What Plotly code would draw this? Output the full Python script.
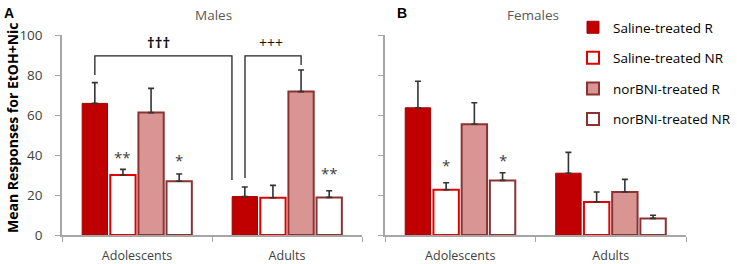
import plotly.graph_objects as go

categories = ["Adolescents", "Adults"]
series_names = ["Saline-treated R", "Saline-treated NR", "norBNI-treated R", "norBNI-treated NR"]

# Males (panel A): means and upper error (SEM)
males_means = {
    "Saline-treated R": [65.8, 19.2],
    "Saline-treated NR": [30.0, 18.6],
    "norBNI-treated R": [61.2, 71.7],
    "norBNI-treated NR": [26.9, 18.8],
}
males_sem = {
    "Saline-treated R": [10.4, 4.8],
    "Saline-treated NR": [2.8, 6.2],
    "norBNI-treated R": [12.1, 10.8],
    "norBNI-treated NR": [3.6, 3.3],
}
# Females (panel B)
females_means = {
    "Saline-treated R": [63.6, 30.9],
    "Saline-treated NR": [22.6, 16.5],
    "norBNI-treated R": [55.4, 21.5],
    "norBNI-treated NR": [27.3, 8.3],
}
females_sem = {
    "Saline-treated R": [13.3, 10.4],
    "Saline-treated NR": [3.5, 5.0],
    "norBNI-treated R": [10.7, 6.3],
    "norBNI-treated NR": [3.8, 1.6],
}
y_ticks = [0, 20, 40, 60, 80, 100]

styles = {
    "Saline-treated R": dict(fill="#C00000", line="#A00000", lw=1),
    "Saline-treated NR": dict(fill="#FFFFFF", line="#E00000", lw=2),
    "norBNI-treated R": dict(fill="#D99594", line="#8C3232", lw=2),
    "norBNI-treated NR": dict(fill="#FFFFFF", line="#8C3232", lw=2),
}

FONT = "Open Sans"
W, H = 737, 264
fig = go.Figure()

for panel, (means, sems, xa, ya) in enumerate([
    (males_means, males_sem, "x", "y"),
    (females_means, females_sem, "x2", "y2"),
]):
    for name in series_names:
        st = styles[name]
        fig.add_trace(go.Bar(
            x=categories, y=means[name], name=name,
            xaxis=xa, yaxis=ya,
            legendgroup=name, showlegend=(panel == 0),
            marker=dict(color=st["fill"], line=dict(color=st["line"], width=st["lw"])),
            error_y=dict(type="data", array=sems[name], arrayminus=[0] * len(categories),
                         symmetric=False, color="#333333", thickness=1.6, width=3),
        ))

axis_line = "#A6A6A6"
common_x = dict(showgrid=False, showline=True, linecolor=axis_line, linewidth=1.5,
                ticks="outside", tickson="boundaries", ticklen=5, tickcolor=axis_line,
                tickfont=dict(family=FONT, size=12.5, color="#404040"), zeroline=False,
                automargin=False, ticklabelstandoff=8)
common_y = dict(range=[0, 100], tickvals=y_ticks, showgrid=False, showline=True,
                linecolor=axis_line, linewidth=1.5, ticks="outside", ticklen=5,
                tickcolor=axis_line, zeroline=False, automargin=False)

def sx(px):
    return px / W

def sy(py):
    return 1 - py / H

fig.update_layout(
    width=W, height=H,
    margin=dict(l=0, r=0, t=0, b=0, autoexpand=False),
    paper_bgcolor="white", plot_bgcolor="white",
    barmode="group", bargap=0.25, bargroupgap=0.1,
    xaxis=dict(domain=[sx(62), sx(362)], anchor="y", **common_x),
    xaxis2=dict(domain=[sx(385), sx(686)], anchor="y2", **common_x),
    yaxis=dict(domain=[sy(235), sy(35)], anchor="x", ticklabelstandoff=10,
               tickfont=dict(family=FONT, size=13.5, color="#404040"), **common_y),
    yaxis2=dict(domain=[sy(235), sy(35)], anchor="x2", showticklabels=False, **common_y),
    legend=dict(x=sx(573), y=sy(12), xanchor="left", yanchor="top",
                font=dict(family=FONT, size=13.5, color="#000000"),
                bgcolor="rgba(0,0,0,0)", tracegroupgap=10, itemwidth=30),
    font=dict(family=FONT),
)

def page_text(text, x, y, size, color, family=FONT, angle=0):
    fig.add_annotation(text=text, xref="paper", yref="paper", x=sx(x), y=sy(y),
                       xanchor="center", yanchor="middle", textangle=angle, showarrow=False,
                       font=dict(family=family, size=size, color=color))

page_text("<b>Mean Responses for EtOH+Nic</b>", 12, 128, 14, "#000000", angle=-90)
page_text("Males", 213, 15, 13.5, "#595959")
page_text("Females", 533, 15, 13.5, "#595959")
page_text("<b>A</b>", 9, 13, 14, "#000000", family="Liberation Sans")
page_text("<b>B</b>", 402, 13, 14, "#000000", family="Liberation Sans")

# Significance brackets (panel A)
br = dict(color="#222222", width=1.3)
fig.add_shape(type="path", xref="x", yref="y",
              path="M -0.281,80 L -0.281,89.6 L 0.633,89.6 L 0.633,27.5", line=br)
fig.add_shape(type="path", xref="x", yref="y",
              path="M 0.72,28.5 L 0.72,89.6 L 1.094,89.6 L 1.094,85", line=br)
fig.add_annotation(text="<b>†††</b>", xref="x", yref="y", x=0.14, y=96.5, showarrow=False,
                   xanchor="center", yanchor="middle",
                   font=dict(family=FONT, size=15, color="#111111"))
fig.add_annotation(text="+++", xref="x", yref="y", x=0.89, y=96.5, showarrow=False,
                   xanchor="center", yanchor="middle",
                   font=dict(family=FONT, size=14, color="#111111"))

# Asterisks
star_font = dict(family=FONT, size=15, color="#404040")
stars = [
    ("x", "y", -0.094, 39, "**"),
    ("x", "y", 0.281, 37.5, "*"),
    ("x", "y", 1.281, 30.8, "**"),
    ("x2", "y2", -0.094, 35, "*"),
    ("x2", "y2", 0.281, 37.5, "*"),
]
for xr, yr, xv, yv, t in stars:
    fig.add_annotation(text=t, xref=xr, yref=yr, x=xv, y=yv, showarrow=False,
                       xanchor="center", yanchor="middle", font=star_font)

fig.write_html("out.html", config={"displayModeBar": False},
               post_script="document.body.style.margin='0';")
